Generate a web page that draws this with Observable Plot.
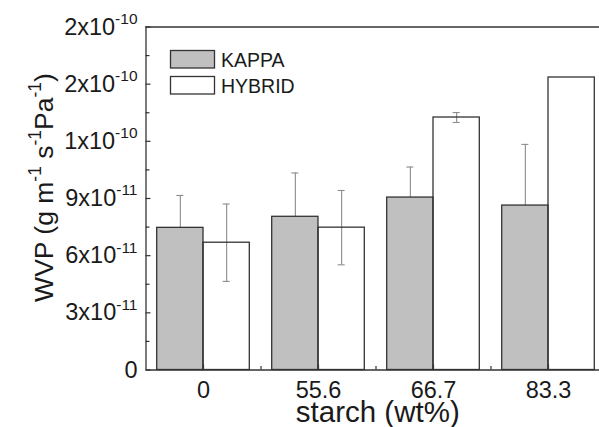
<!DOCTYPE html>
<html><head><meta charset="utf-8">
<script src="https://cdn.jsdelivr.net/npm/d3@7"></script>
<script src="https://cdn.jsdelivr.net/npm/@observablehq/plot@0.6"></script>
<style>
body{margin:0;background:#fff;}
#chart svg{overflow:hidden;display:block;}
</style></head><body><div id="chart"></div>
<script>
// ---- data ----
const categories = ["0", "55.6", "66.7", "83.3"];
const series = ["KAPPA", "HYBRID"];
const kappa = [7.46e-11, 8.04e-11, 9.05e-11, 8.63e-11];
const kappaErr = [1.70e-11, 2.30e-11, 1.60e-11, 3.21e-11];
const hybrid = [6.68e-11, 7.47e-11, 13.25e-11, 15.35e-11];
const hybridErr = [2.03e-11, 1.95e-11, 0.26e-11, 0];
const yTicks = [0, 3e-11, 6e-11, 9e-11, 1.2e-10, 1.5e-10, 1.8e-10];
const yTickLabels = ["0", "3x10^{-11}", "6x10^{-11}", "9x10^{-11}", "1x10^{-10}", "2x10^{-10}", "2x10^{-10}"];
const yMinorTicks = [1.5e-11, 4.5e-11, 7.5e-11, 1.05e-10, 1.35e-10, 1.65e-10];
const xLabel = "starch (wt%)";
const yLabel = "WVP (g m^{-1} s^{-1}Pa^{-1})";

// ---- derived table ----
const BW = 0.4026; // bar width as fraction of a category slot
const rows = categories.flatMap((c, i) => series.map((s, j) => ({
  category: c, index: i, series: s, side: j === 0 ? -1 : 1,
  value: (j === 0 ? kappa : hybrid)[i],
  err: (j === 0 ? kappaErr : hybridErr)[i]
})));
const left = d => d.index + 0.5 + (d.side < 0 ? -BW : 0);
const right = d => d.index + 0.5 + (d.side < 0 ? 0 : BW);
const mid = d => d.index + 0.5 + d.side * BW / 2;
const errRows = rows.filter(d => d.err > 0);
const majorX = categories.map((c, i) => i + 0.5);
const minorX = categories.slice(1).map((c, i) => i + 1);

const AX = "#333";
const ERR = "#8c8c8c";
const TICKFS = 23.5, XLABELFS = 29.5, YLABELFS = 26.5, LEGFS = 19.5;

const plot = Plot.plot({
  width: 599, height: 427,
  marginLeft: 145.5, marginRight: 0, marginTop: 26.5, marginBottom: 57.5,
  style: {fontFamily: "'Liberation Sans', Arial, sans-serif", color: "#1a1a1a", background: "white"},
  x: {type: "linear", domain: [0, 4], range: [145.5, 605.5], axis: null},
  y: {domain: [0, 1.8e-10], axis: null},
  marks: [
    // error bars (drawn under bars; hybrid bars are unfilled)
    Plot.ruleX(errRows, {x: mid, y1: d => d.value - d.err, y2: d => d.value + d.err, stroke: ERR, strokeWidth: 1.1}),
    Plot.ruleY(errRows, {x1: mid, x2: mid, y: d => d.value + d.err, insetLeft: -3.5, insetRight: -3.5, stroke: ERR, strokeWidth: 1.1}),
    Plot.ruleY(errRows, {x1: mid, x2: mid, y: d => d.value - d.err, insetLeft: -3.5, insetRight: -3.5, stroke: ERR, strokeWidth: 1.1}),
    // bars
    Plot.rectY(rows, {filter: d => d.series === "KAPPA", x1: left, x2: right, y1: 0, y2: "value", fill: "#c0c0c0", stroke: AX, strokeWidth: 1.3}),
    Plot.rectY(rows, {filter: d => d.series === "HYBRID", x1: left, x2: right, y1: 0, y2: "value", fill: "none", stroke: AX, strokeWidth: 1.3}),
    // frame lines
    Plot.ruleY([0], {stroke: AX, strokeWidth: 1.3}),
    Plot.ruleY([1.8e-10], {stroke: AX, strokeWidth: 1.3}),
    Plot.ruleX([0], {stroke: AX, strokeWidth: 1.3}),
    // y ticks (inward)
    Plot.ruleY(yTicks, {y: d => d, x1: 0, x2: 0, insetRight: -5, stroke: AX, strokeWidth: 1.2}),
    Plot.ruleY(yMinorTicks, {y: d => d, x1: 0, x2: 0, insetRight: -4, stroke: AX, strokeWidth: 1.2}),
    // x ticks (inward)
    Plot.ruleX(majorX, {x: d => d, y1: 0, y2: 0, insetTop: -5, stroke: AX, strokeWidth: 1.2}),
    Plot.ruleX(minorX, {x: d => d, y1: 0, y2: 0, insetTop: -3.5, stroke: AX, strokeWidth: 1.2}),
    // tick labels
    Plot.text(yTicks, {x: 0, y: d => d, text: (d, i) => yTickLabels[i], textAnchor: "end", lineAnchor: "middle", dx: -8.5, fontSize: TICKFS, fill: "#1a1a1a"}),
    Plot.text(majorX, {x: d => d, y: 0, text: (d, i) => categories[i], lineAnchor: "middle", dy: 20.5, fontSize: TICKFS, fill: "#1a1a1a"}),
    // axis titles
    Plot.text([xLabel], {frameAnchor: "bottom", text: d => d, textAnchor: "middle", lineAnchor: "middle", dx: 5, dy: 43, fontSize: XLABELFS, fill: "#1a1a1a"}),
    Plot.text([yLabel], {frameAnchor: "left", text: d => d, rotate: -90, textAnchor: "middle", lineAnchor: "middle", dx: -101.5, dy: -11, fontSize: YLABELFS, fill: "#1a1a1a"})
  ]
});

document.getElementById("chart").appendChild(plot);

// superscript markup ^{...} -> tspans
function applySup(textEl) {
  const raw = textEl.textContent;
  if (!raw.includes("^{")) return;
  const fontSize = parseFloat(getComputedStyle(textEl).fontSize);
  const parts = raw.split(/(\^\{[^}]*\})/).filter(p => p.length);
  textEl.textContent = "";
  const shift = fontSize * 0.45, supSize = fontSize * 0.66;
  let raised = false;
  for (const p of parts) {
    const t = document.createElementNS("http://www.w3.org/2000/svg", "tspan");
    if (p.startsWith("^{")) {
      t.textContent = p.slice(2, -1);
      t.setAttribute("font-size", supSize);
      t.setAttribute("dy", -shift);
      raised = true;
    } else {
      t.textContent = p;
      if (raised) { t.setAttribute("dy", shift); raised = false; }
    }
    textEl.appendChild(t);
  }
}
plot.querySelectorAll("text").forEach(applySup);

// legend inside the frame
const svg = d3.select(plot);
const lg = svg.append("g").attr("font-size", LEGFS).attr("fill", "#1a1a1a").attr("text-anchor", "start");
series.forEach((s, j) => {
  lg.append("rect").attr("x", 170.5).attr("y", 50.5 + j * 26).attr("width", 44).attr("height", 17.5)
    .attr("fill", j ? "white" : "#c0c0c0").attr("stroke", AX).attr("stroke-width", 1.3);
  lg.append("text").attr("x", 221).attr("y", 66.7 + j * 26.6).text(s);
});
</script></body></html>
